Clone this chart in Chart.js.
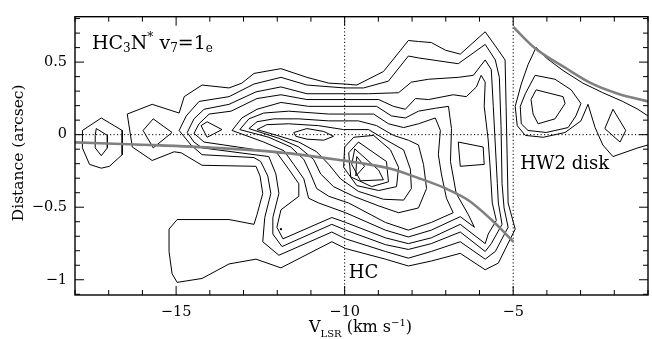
<!DOCTYPE html>
<html><head><meta charset="utf-8">
<script src="https://cdn.jsdelivr.net/npm/chart.js@4"></script>
<style>html,body{margin:0;padding:0;background:#fff;}canvas{display:block}</style>
</head><body>
<canvas id="c" width="652" height="339"></canvas>
<script>
// ---- axes ----
const xRange = [-18, -1];
const yRange = [-1.105, 0.813];
const xMajorTicks = [-15, -10, -5];
const yMajorTicks = [-1, -0.5, 0, 0.5];
const xTitle = [['V',16,0],['LSR',10,5],[' (km s',16,0],['\u22121',10,-6],[')',16,0]];
const yTitle = 'Distance (arcsec)';
const lineLabel = [['HC',19,0],['3',12,3],['N',19,0],['*',12,-8],[' v',19,0],['7',12,3],['=1',19,0],['e',12,3]];
const hcLabel = {text:'HC', v:-9.88, d:-0.991};
const diskLabel = {text:'HW2 disk', v:-4.79, d:-0.238};
const vLines = [-10, -5];
const hLines = [0];

// ---- contours (velocity km/s, distance arcsec) ----
const leftOuter = [[-17.78,0.029],[-17.22,0.115],[-16.60,0.029],[-16.60,-0.138],[-16.98,-0.218],[-17.22,-0.231],[-17.57,-0.205],[-17.78,-0.091]];
const leftInner = [[-17.37,0.042],[-17.04,-0.005],[-17.04,-0.091],[-17.22,-0.145],[-17.40,-0.091],[-17.40,-0.005]];
const diamondA = [[-15.98,0.029],[-15.68,0.109],[-15.12,0.015],[-15.68,-0.091]];
const diamondB = [[-14.26,0.062],[-14.08,0.089],[-13.64,0.035],[-14.08,-0.018]];
const C1 = [[-16.45,0.142],[-15.71,0.209],[-14.91,0.149],[-14.76,0.262],[-14.23,0.342],[-13.43,0.322],[-13.05,0.355],[-12.69,0.422],[-11.89,0.455],[-11.12,0.395],[-10.47,0.355],[-10.00,0.349],[-9.64,0.342],[-8.85,0.435],[-8.34,0.582],[-8.11,0.649],[-7.81,0.642],[-7.43,0.635],[-7.01,0.582],[-6.57,0.555],[-5.83,0.709],[-5.44,0.582],[-5.24,0.515],[-5.21,0.195],[-5.18,-0.138],[-5.15,-0.471],[-4.94,-0.651],[-5.44,-0.885],[-5.83,-0.931],[-6.57,-0.818],[-7.43,-0.871],[-8.11,-0.905],[-8.79,-0.858],[-9.97,-0.785],[-10.38,-0.738],[-11.89,-0.918],[-12.63,-0.858],[-13.43,-0.891],[-14.23,-0.991],[-14.97,-1.018],[-15.12,-0.958],[-15.21,-0.805],[-15.21,-0.651],[-14.97,-0.585],[-13.43,-0.585],[-12.69,-0.618],[-12.60,-0.551],[-12.43,-0.405],[-12.51,-0.285],[-12.63,-0.218],[-14.23,-0.211],[-14.85,-0.125],[-15.06,-0.118],[-15.71,-0.178],[-16.30,-0.085]];
const C2 = [[-14.91,0.029],[-14.70,0.129],[-14.32,0.229],[-13.43,0.262],[-12.69,0.349],[-11.89,0.395],[-11.12,0.342],[-10.00,0.322],[-9.44,0.322],[-8.70,0.369],[-8.11,0.542],[-7.81,0.529],[-6.63,0.489],[-5.83,0.622],[-5.53,0.515],[-5.41,0.395],[-5.36,0.062],[-5.33,-0.338],[-5.27,-0.505],[-5.15,-0.638],[-5.53,-0.805],[-5.83,-0.858],[-6.57,-0.738],[-7.43,-0.805],[-8.11,-0.851],[-8.79,-0.805],[-9.97,-0.718],[-10.38,-0.671],[-11.95,-0.831],[-12.43,-0.738],[-12.37,-0.571],[-12.19,-0.405],[-12.28,-0.285],[-12.49,-0.185],[-12.69,-0.158],[-14.23,-0.138],[-14.56,-0.071]];
const C3 = [[-14.67,0.015],[-14.47,0.109],[-14.17,0.175],[-13.43,0.209],[-12.63,0.295],[-11.89,0.329],[-11.12,0.282],[-9.29,0.282],[-8.40,0.289],[-8.02,0.362],[-7.51,0.382],[-6.63,0.395],[-6.18,0.409],[-5.83,0.515],[-5.65,0.449],[-5.59,0.195],[-5.53,-0.071],[-5.47,-0.338],[-5.44,-0.471],[-5.33,-0.618],[-5.65,-0.751],[-5.83,-0.805],[-6.57,-0.671],[-7.43,-0.751],[-8.11,-0.791],[-8.79,-0.758],[-9.97,-0.658],[-10.38,-0.618],[-11.86,-0.771],[-12.13,-0.685],[-12.13,-0.571],[-11.95,-0.405],[-12.04,-0.271],[-12.25,-0.151],[-14.23,-0.091],[-14.47,-0.051]];
const C4 = [[-14.47,0.009],[-14.32,0.075],[-14.02,0.142],[-13.37,0.162],[-12.60,0.249],[-11.89,0.275],[-11.12,0.242],[-8.99,0.242],[-8.55,0.195],[-8.20,0.175],[-7.90,0.249],[-7.51,0.242],[-6.78,0.275],[-6.39,0.262],[-6.09,0.329],[-5.95,0.409],[-5.83,0.362],[-5.86,0.195],[-5.74,-0.038],[-5.68,-0.238],[-5.62,-0.471],[-5.50,-0.591],[-5.74,-0.685],[-5.83,-0.751],[-6.57,-0.618],[-7.43,-0.711],[-8.11,-0.751],[-8.79,-0.711],[-9.97,-0.605],[-10.38,-0.571],[-11.83,-0.718],[-12.01,-0.638],[-11.89,-0.518],[-11.36,-0.425],[-11.36,-0.338],[-11.66,-0.238],[-12.01,-0.125],[-14.17,-0.051]];
const C5 = [[-13.34,0.029],[-13.05,0.115],[-12.60,0.175],[-11.89,0.222],[-11.07,0.195],[-9.05,0.195],[-8.61,0.129],[-8.20,0.115],[-7.81,0.162],[-7.31,0.182],[-6.92,0.195],[-6.83,0.042],[-6.86,-0.185],[-6.69,-0.405],[-6.33,-0.551],[-6.15,-0.638],[-6.57,-0.565],[-7.43,-0.658],[-8.11,-0.705],[-8.79,-0.658],[-9.97,-0.538],[-10.77,-0.471],[-11.07,-0.438],[-11.21,-0.305],[-11.51,-0.205],[-11.80,-0.111],[-12.40,-0.051]];
const C6 = [[-13.11,0.035],[-12.84,0.109],[-12.40,0.149],[-11.66,0.162],[-10.47,0.142],[-9.14,0.142],[-8.70,0.075],[-8.25,0.049],[-7.81,0.075],[-7.31,0.115],[-7.16,0.029],[-7.22,-0.138],[-7.13,-0.271],[-6.98,-0.438],[-6.78,-0.538],[-7.43,-0.605],[-8.11,-0.658],[-8.79,-0.605],[-9.88,-0.471],[-10.47,-0.425],[-10.83,-0.371],[-11.01,-0.271],[-11.21,-0.171],[-11.60,-0.085],[-12.25,-0.018]];
const C7 = [[-12.84,0.042],[-12.60,0.089],[-12.10,0.109],[-11.36,0.109],[-10.47,0.095],[-9.59,0.095],[-9.05,0.062],[-8.55,-0.005],[-8.11,-0.038],[-7.81,-0.071],[-7.66,-0.205],[-7.57,-0.371],[-7.81,-0.505],[-8.40,-0.538],[-8.99,-0.491],[-9.73,-0.425],[-10.33,-0.358],[-10.71,-0.271],[-10.92,-0.171],[-11.36,-0.085],[-11.95,-0.025]];
const C8 = [[-12.60,0.035],[-12.31,0.069],[-11.66,0.075],[-10.77,0.062],[-10.03,0.035],[-9.29,0.035],[-8.76,-0.038],[-8.25,-0.105],[-8.05,-0.238],[-8.02,-0.371],[-8.25,-0.451],[-8.85,-0.445],[-9.59,-0.391],[-10.12,-0.305],[-10.47,-0.205],[-10.83,-0.118],[-11.36,-0.051],[-12.01,-0.005]];
const U1 = [[-11.51,0.015],[-11.12,0.042],[-10.62,0.022],[-10.33,-0.011],[-10.62,-0.038],[-11.12,-0.031],[-11.45,-0.011]];
const K4 = [[-9.73,-0.018],[-9.14,-0.005],[-8.64,-0.105],[-8.40,-0.225],[-8.46,-0.358],[-8.99,-0.385],[-9.64,-0.351],[-10.03,-0.225],[-10.00,-0.085]];
const K3 = [[-9.59,-0.051],[-8.76,-0.185],[-8.70,-0.325],[-9.20,-0.358],[-9.82,-0.291],[-9.88,-0.125]];
const K2 = [[-9.70,-0.098],[-8.99,-0.245],[-8.85,-0.311],[-9.53,-0.318],[-9.79,-0.205]];
const K1 = [[-9.64,-0.151],[-9.41,-0.218],[-9.67,-0.285]];
const ridgeQuad = [[-6.63,-0.051],[-5.89,-0.085],[-5.86,-0.205],[-6.57,-0.218]];
const H1 = [[-1.00,-0.071],[-1.30,-0.091],[-2.04,-0.151],[-2.34,-0.071],[-2.57,0.049],[-2.78,0.209],[-2.99,0.095],[-3.46,0.015],[-4.11,-0.018],[-4.64,-0.005],[-4.88,0.062],[-4.94,0.195],[-4.76,0.349],[-4.56,0.482],[-4.32,0.602],[-4.02,0.529],[-3.52,0.442],[-2.93,0.355],[-2.34,0.289],[-1.75,0.229],[-1.30,0.175],[-1.00,0.129]];
const H2 = [[-4.79,0.195],[-4.64,0.282],[-4.35,0.409],[-3.76,0.382],[-3.28,0.309],[-2.99,0.215],[-3.14,0.129],[-3.37,0.049],[-4.02,0.015],[-4.56,0.029],[-4.76,0.075]];
const H3 = [[-4.47,0.242],[-4.32,0.309],[-3.52,0.262],[-3.46,0.215],[-3.76,0.109],[-4.26,0.075],[-4.41,0.142]];
const S1 = [[-2.28,0.042],[-2.04,0.175],[-1.66,0.029],[-1.83,-0.051]];
const dotPts = [[-11.89,-0.651]];

// ---- model curves (grey) ----
const curveLower = [[-18.0,-0.053],[-15.79,-0.071],[-13.72,-0.093],[-11.94,-0.122],[-10.26,-0.171],[-8.69,-0.232],[-7.80,-0.300],[-7.00,-0.371],[-6.33,-0.452],[-5.65,-0.585],[-5.30,-0.665],[-5.00,-0.738]];
const curveUpper = [[-5.00,0.742],[-4.35,0.595],[-3.46,0.462],[-2.69,0.355],[-1.89,0.282],[-1.00,0.229]];

const closedContours = [leftOuter,leftInner,diamondA,diamondB,C1,C2,C3,C4,C5,C6,C7,C8,U1,K4,K3,K2,K1,ridgeQuad,H2,H3,S1];
const openContours = [H1];

const FONT = '"DejaVu Serif", "Liberation Serif", serif';
const toPts = a => a.map(p => ({x:p[0], y:p[1]}));
function contourDS(arr, closed) {
  const pts = toPts(arr);
  if (closed) pts.push({x:arr[0][0], y:arr[0][1]});
  return {data:pts, showLine:true, borderColor:'#000', borderWidth:1, pointRadius:0, tension:0, fill:false, order:3};
}
const datasets = [];
datasets.push({data:toPts(curveLower), showLine:true, borderColor:'#808080', borderWidth:2.6, pointRadius:0, cubicInterpolationMode:'monotone', fill:false, order:0});
datasets.push({data:toPts(curveUpper), showLine:true, borderColor:'#808080', borderWidth:2.6, pointRadius:0, cubicInterpolationMode:'monotone', fill:false, order:0});
closedContours.forEach(c => datasets.push(contourDS(c, true)));
openContours.forEach(c => datasets.push(contourDS(c, false)));
datasets.push({data:toPts(dotPts), showLine:false, pointRadius:1.1, pointBackgroundColor:'#000', pointBorderWidth:0, order:1});
hLines.forEach(h => datasets.push({data:[{x:xRange[0],y:h},{x:xRange[1],y:h}], showLine:true, borderColor:'#000', borderWidth:1, borderDash:[1.2,2.3], pointRadius:0, order:2}));
vLines.forEach(v => datasets.push({data:[{x:v,y:yRange[0]},{x:v,y:yRange[1]}], showLine:true, borderColor:'#000', borderWidth:1, borderDash:[1.2,2.3], pointRadius:0, order:2}));

const fmt = v => (v < 0 ? '\u2212' : '') + String(Math.abs(v));

function drawRich(ctx, x, y, parts, align) {
  let w = 0;
  parts.forEach(p => { ctx.font = p[1] + 'px ' + FONT; w += ctx.measureText(p[0]).width; });
  let cx = align === 'center' ? x - w/2 : x;
  parts.forEach(p => { ctx.font = p[1] + 'px ' + FONT; ctx.fillText(p[0], cx, y + p[2]); cx += ctx.measureText(p[0]).width; });
}

const decor = {
  id:'decor',
  beforeDraw(chart) { const c = chart.ctx; c.save(); c.fillStyle = '#fff'; c.fillRect(0,0,chart.width,chart.height); c.restore(); },
  afterDraw(chart) {
    const ctx = chart.ctx, a = chart.chartArea, xs = chart.scales.x, ys = chart.scales.y;
    ctx.save();
    ctx.strokeStyle = '#000';
    ctx.lineWidth = 1;
    ctx.beginPath();
    for (let v = xRange[0]; v <= xRange[1]; v += 1) {
      const px = xs.getPixelForValue(v);
      const L = (v % 5 === 0) ? 9 : 5;
      ctx.moveTo(px, a.bottom); ctx.lineTo(px, a.bottom - L);
      ctx.moveTo(px, a.top); ctx.lineTo(px, a.top + L);
    }
    for (let k = -11; k <= 8; k++) {
      const py = ys.getPixelForValue(k / 10);
      const L = (k % 5 === 0) ? 9 : 5;
      ctx.moveTo(a.left, py); ctx.lineTo(a.left + L, py);
      ctx.moveTo(a.right, py); ctx.lineTo(a.right - L, py);
    }
    ctx.stroke();
    ctx.lineWidth = 1.4;
    ctx.strokeRect(a.left, a.top, a.right - a.left, a.bottom - a.top);

    ctx.fillStyle = '#000';
    ctx.textBaseline = 'alphabetic';
    ctx.textAlign = 'left';
    drawRich(ctx, a.left + 17, a.top + 32.5, lineLabel, 'left');
    ctx.font = '18px ' + FONT;
    ctx.fillText(hcLabel.text, xs.getPixelForValue(hcLabel.v), ys.getPixelForValue(hcLabel.d));
    ctx.fillText(diskLabel.text, xs.getPixelForValue(diskLabel.v), ys.getPixelForValue(diskLabel.d));
    drawRich(ctx, (a.left + a.right) / 2 - 1, 332, xTitle, 'center');
    ctx.save();
    ctx.translate(23, (a.top + a.bottom) / 2 - 3);
    ctx.rotate(-Math.PI / 2);
    ctx.textAlign = 'center';
    ctx.font = '15.5px ' + FONT;
    ctx.fillText(yTitle, 0, 0);
    ctx.restore();
    ctx.restore();
  }
};

new Chart(document.getElementById('c'), {
  type:'scatter',
  data:{datasets},
  options:{
    responsive:false, animation:false, devicePixelRatio:1,
    layout:{padding:{left:0, right:2, top:7, bottom:0}},
    plugins:{legend:{display:false}, tooltip:{enabled:false}},
    events:[],
    scales:{
      x:{type:'linear', min:xRange[0], max:xRange[1], position:'bottom',
         grid:{display:false, drawTicks:false, tickLength:0}, border:{display:false},
         afterBuildTicks: s => { s.ticks = xMajorTicks.map(v => ({value:v})); },
         afterFit: s => { s.height = 44; },
         ticks:{autoSkip:false, maxRotation:0, padding:9, color:'#000', font:{family:FONT, size:14.5}, callback: v => fmt(v)}},
      y:{type:'linear', min:yRange[0], max:yRange[1],
         grid:{display:false, drawTicks:false, tickLength:0}, border:{display:false},
         afterBuildTicks: s => { s.ticks = yMajorTicks.map(v => ({value:v})); },
         afterFit: s => { s.width = 75; },
         ticks:{autoSkip:false, padding:8, color:'#000', font:{family:FONT, size:14.5}, callback: v => fmt(v)}}
    }
  },
  plugins:[decor]
});
</script>
</body></html>
